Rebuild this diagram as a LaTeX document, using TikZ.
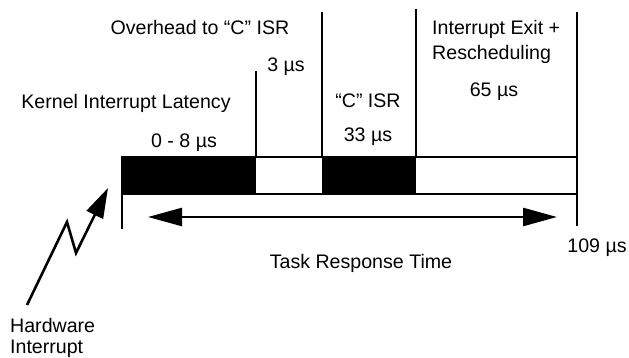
\documentclass[tikz,border=0pt]{standalone}
\usepackage{fontspec}
\setmainfont{Liberation Sans}
\usetikzlibrary{arrows.meta}
\begin{document}
\begin{tikzpicture}[x=1pt,y=-1pt,
  lbl/.style={font=\fontsize{19.6}{23}\selectfont, inner sep=0pt, anchor=base},
  lbll/.style={lbl, anchor=base west},
  rule/.style={line width=2.8pt},
  seg/.style={fill=black, draw=none},
  bigtip/.style={-{Triangle[length=34pt,width=18pt]}, line width=2.6pt}]
\useasboundingbox (0,0) rectangle (629,358);
% bar
\fill[black] (122,157) rectangle (256,194);
\fill[black] (322,157) rectangle (416,194);
\draw[rule] (122,157) rectangle (577,194);
% vertical markers
\coordinate (v1t) at (256,71);  \coordinate (v1b) at (256,157);
\coordinate (v2t) at (322,12);  \coordinate (v2b) at (322,157);
\coordinate (v3t) at (416,9);   \coordinate (v3b) at (416,157);
\coordinate (v4t) at (577,12);  \coordinate (v4b) at (577,226);
\coordinate (v0t) at (122,194); \coordinate (v0b) at (122,229);
\draw[rule] (v1t) -- (v1b);
\draw[rule] (v2t) -- (v2b);
\draw[rule] (v3t) -- (v3b);
\draw[rule] (v4t) -- (v4b);
\draw[rule] (v0t) -- (v0b);
% task response arrow
\coordinate (ta) at (148,217);
\coordinate (tb) at (557,217);
\draw[bigtip, {Triangle[length=34pt,width=18pt]}-{Triangle[length=34pt,width=18pt]}] (ta) -- (tb);
% lightning
\coordinate (l0) at (27,305);
\coordinate (l1) at (67,222);
\coordinate (l2) at (76,253);
\coordinate (l3) at (108,188);
\draw[line width=2.6pt, line join=miter, -{Triangle[length=30pt,width=18pt]}] (l0) -- (l1) -- (l2) -- (l3);
% labels
\node[lbl] (ovh) at (200,35) {Overhead to “C” ISR};
\node[lbl] (t3) at (286,72) {3 µs};
\node[lbl] (kil) at (126,109) {Kernel Interrupt Latency};
\node[lbl] (t08) at (184,148) {0 - 8 µs};
\node[lbl] (cisr) at (368,108) {“C” ISR};
\node[lbl] (t33) at (368,142) {33 µs};
\node[lbll] (iex) at (432,35) {Interrupt Exit +};
\node[lbll] (resch) at (432,60) {Rescheduling};
\node[lbl] (t65) at (494,97) {65 µs};
\node[lbl] (t109) at (597,252) {109 µs};
\node[lbl] (trt) at (361,268) {Task Response Time};
\node[lbll] (hw) at (10,332) {Hardware};
\node[lbll] (hwi) at (10,353) {Interrupt};
\end{tikzpicture}
\end{document}
